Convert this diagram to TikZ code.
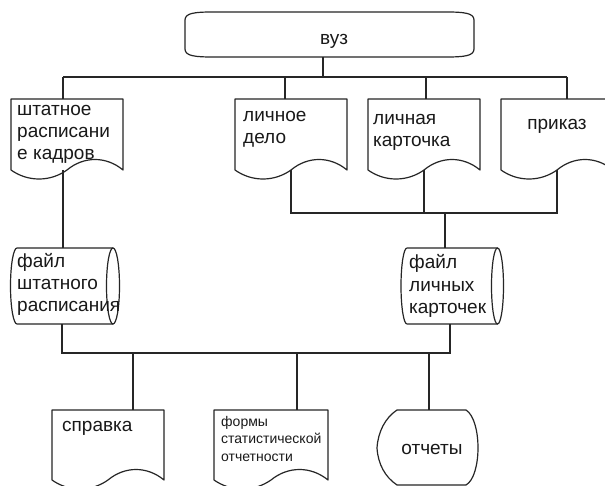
\documentclass[tikz,border=0pt]{standalone}
\usepackage{fontspec}
\setmainfont{Liberation Sans}

% document symbol: left x, top y, width, y where the side edges end
\newcommand\docshape[4]{%
  \draw[shapeline] (#1,#4) -- (#1,#2) -- ({#1+#3},#2) -- ({#1+#3},#4)
    .. controls ({#1+0.85*#3},{#4-14}) and ({#1+0.65*#3},{#4-14}) .. ({#1+0.5*#3},#4)
    .. controls ({#1+0.35*#3},{#4+12}) and ({#1+0.15*#3},{#4+12}) .. (#1,#4) -- cycle;}

% direct access storage (horizontal drum): left x, right x, top y, bottom y, end half-width
\newcommand\drumshape[5]{%
  \draw[shapeline] (#1,#3) -- (#2,#3) (#1,#4) -- (#2,#4)
    (#1,#3) arc[start angle=-90, end angle=-270, x radius=#5, y radius={(#4-#3)/2}];
  \draw[shapeline] (#2,{(#3+#4)/2}) ellipse[x radius=#5, y radius={(#4-#3)/2}];}

\begin{document}
\begin{tikzpicture}[x=1pt, y=-1pt,
  shapeline/.style={line width=1.2pt, draw=black!85, line join=round},
  wire/.style={line width=1.2pt, draw=black!85},
  % multi-line labels are placed by the baseline of their last line
  label/.style={font=\fontsize{19}{22}\selectfont, inner sep=0pt, align=left, anchor=base west, text=black!90},
  smalllabel/.style={font=\fontsize{14}{17.8}\selectfont, inner sep=0pt, align=left, anchor=base west, text=black!90}]
\useasboundingbox (0,0) rectangle (605,486);
\fill[white] (0,0) rectangle (605,486);
\begin{scope}
\clip (0,0) rectangle (605,486);

% ---- top terminal block
\draw[shapeline] (213,12) -- (446,12) .. controls (464,12) and (474,13) .. (474,20)
  -- (474,49) .. controls (474,56) and (464,57) .. (446,57)
  -- (213,57) .. controls (195,57) and (185,56) .. (185,49)
  -- (185,20) .. controls (185,13) and (195,12) .. (213,12) -- cycle;
\node[label, anchor=base] (vuz) at (334,44.3) {вуз};

% ---- input documents
\docshape{11}{99}{112}{170}
\docshape{235}{99}{112}{170}
\docshape{368}{99}{112}{170}
\docshape{501}{99}{112}{170}
\node[label] (shtat) at (17,160) {штатное\\расписани\\е кадров};
\node[label] (lichnoe) at (243,143.3) {личное\\дело};
\node[label] (lichnaya) at (373,146.7) {личная\\карточка};
\node[label, anchor=base] (prikaz) at (557,130) {приказ};

% ---- data files
\drumshape{17}{113}{248}{324}{6.5}
\drumshape{407}{497.5}{248}{324}{6}
\node[label] (fileS) at (17,311.7) {файл\\штатного\\расписания};
\node[label] (fileL) at (409,313) {файл\\личных\\карточек};

% ---- output documents
\docshape{52}{410}{112}{480}
\docshape{214}{410}{114}{480}
\draw[shapeline] (397,410) -- (466,410) .. controls (482,420) and (482,476) .. (466,485)
  -- (397,485) .. controls (385,477) and (378,464) .. (377,448)
  .. controls (378,432) and (385,418) .. (397,410) -- cycle;
\node[label] (spravka) at (62,431.7) {справка};
\node[smalllabel] (formy) at (221,461.7) {формы\\статистической\\отчетности};
\node[label, anchor=base] (otchety) at (432,454) {отчеты};

% ---- connection points
\coordinate (vuz-s) at (323,57);
\coordinate (bus1) at (0,77);
\coordinate (shtat-n) at (63,99);
\coordinate (lichnoe-n) at (285,99);
\coordinate (lichnaya-n) at (426,99);
\coordinate (prikaz-n) at (567,99);
\coordinate (shtat-s) at (63,170);
\coordinate (lichnoe-s) at (291,170);
\coordinate (lichnaya-s) at (424,170);
\coordinate (prikaz-s) at (557,170);
\coordinate (bus2) at (0,213);
\coordinate (fileS-n) at (63,248);
\coordinate (fileL-n) at (445,248);
\coordinate (fileS-s) at (62,324);
\coordinate (fileL-s) at (450,324);
\coordinate (bus3) at (0,353);
\coordinate (spravka-n) at (133,410);
\coordinate (formy-n) at (297,410);
\coordinate (otchety-n) at (429,410);

% ---- connectors
\draw[wire] (vuz-s) -- (vuz-s |- bus1);
\draw[wire] (shtat-n |- bus1) -- (prikaz-n |- bus1);
\foreach \c in {shtat-n, lichnoe-n, lichnaya-n, prikaz-n}
  \draw[wire] (\c |- bus1) -- (\c);
\draw[wire] (lichnoe-s) -- (lichnoe-s |- bus2) -- (prikaz-s |- bus2) -- (prikaz-s);
\draw[wire] (lichnaya-s) -- (lichnaya-s |- bus2);
\draw[wire] (fileL-n |- bus2) -- (fileL-n);
\draw[wire] (shtat-s) -- (fileS-n);
\draw[wire] (fileS-s) -- (fileS-s |- bus3) -- (fileL-s |- bus3) -- (fileL-s);
\foreach \c in {spravka-n, formy-n, otchety-n}
  \draw[wire] (\c |- bus3) -- (\c);
\end{scope}
\end{tikzpicture}
\end{document}
